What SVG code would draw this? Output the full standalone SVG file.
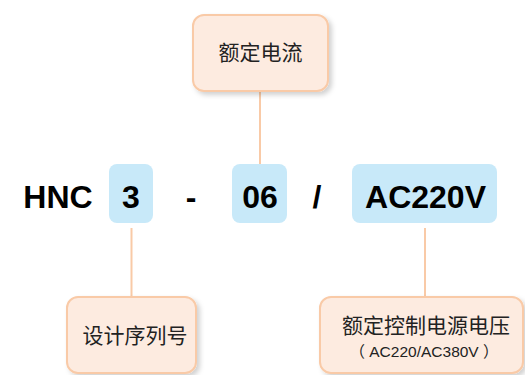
<svg xmlns="http://www.w3.org/2000/svg" width="525" height="375" viewBox="0 0 525 375">
<defs>
<filter id="sh" x="-20%" y="-20%" width="150%" height="150%">
<feDropShadow dx="3" dy="3" stdDeviation="2.5" flood-color="#000" flood-opacity="0.18"/>
</filter>
</defs>
<style>
.peach{fill:#fdebe0;stroke:#f9caa7;stroke-width:2;filter:url(#sh)}
.blue{fill:#c8e9f9;stroke:none}
.lbl{font-family:"Noto Sans CJK SC","Noto Sans",sans-serif;font-size:21px;fill:#222;text-anchor:middle}
.sub{font-family:"Liberation Sans","Noto Sans CJK SC",sans-serif;font-size:15.5px;fill:#222;text-anchor:middle}
.big{font-family:"Liberation Sans",Arial,sans-serif;font-size:32px;font-weight:bold;fill:#000;text-anchor:middle}
.conn{stroke:#f9caa7;stroke-width:2;fill:none}
</style>
<rect width="525" height="375" fill="#fff"/>
<g id="connectors">
<line class="conn" x1="260" y1="91" x2="260" y2="164"/>
<line class="conn" x1="131.5" y1="228" x2="131.5" y2="297"/>
<line class="conn" x1="425" y1="228" x2="425" y2="297"/>
</g>
<g id="node-rated-current">
<rect class="peach" x="193" y="15" width="135" height="76" rx="11"/>
<text class="lbl" x="260.5" y="60">额定电流</text>
</g>
<g id="node-hnc">
<text class="big" x="58" y="208">HNC</text>
</g>
<g id="node-3">
<rect class="blue" x="109" y="164" width="44" height="59" rx="8"/>
<text class="big" x="131" y="208">3</text>
</g>
<g id="node-dash">
<text class="big" x="191" y="208">-</text>
</g>
<g id="node-06">
<rect class="blue" x="232" y="164" width="55" height="59" rx="8"/>
<text class="big" x="260" y="208">06</text>
</g>
<g id="node-slash">
<text class="big" x="317" y="208">/</text>
</g>
<g id="node-ac220v">
<rect class="blue" x="352" y="164" width="145" height="59" rx="8"/>
<text class="big" x="425.5" y="208">AC220V</text>
</g>
<g id="node-serial">
<rect class="peach" x="67" y="297" width="129" height="76" rx="11"/>
<text class="lbl" x="135" y="343">设计序列号</text>
</g>
<g id="node-control-voltage">
<rect class="peach" x="320" y="297" width="203" height="76" rx="11"/>
<text class="lbl" x="426" y="333">额定控制电源电压</text>
<text class="sub" x="424" y="357" xml:space="preserve">（ AC220/AC380V ）</text>
</g>
</svg>
